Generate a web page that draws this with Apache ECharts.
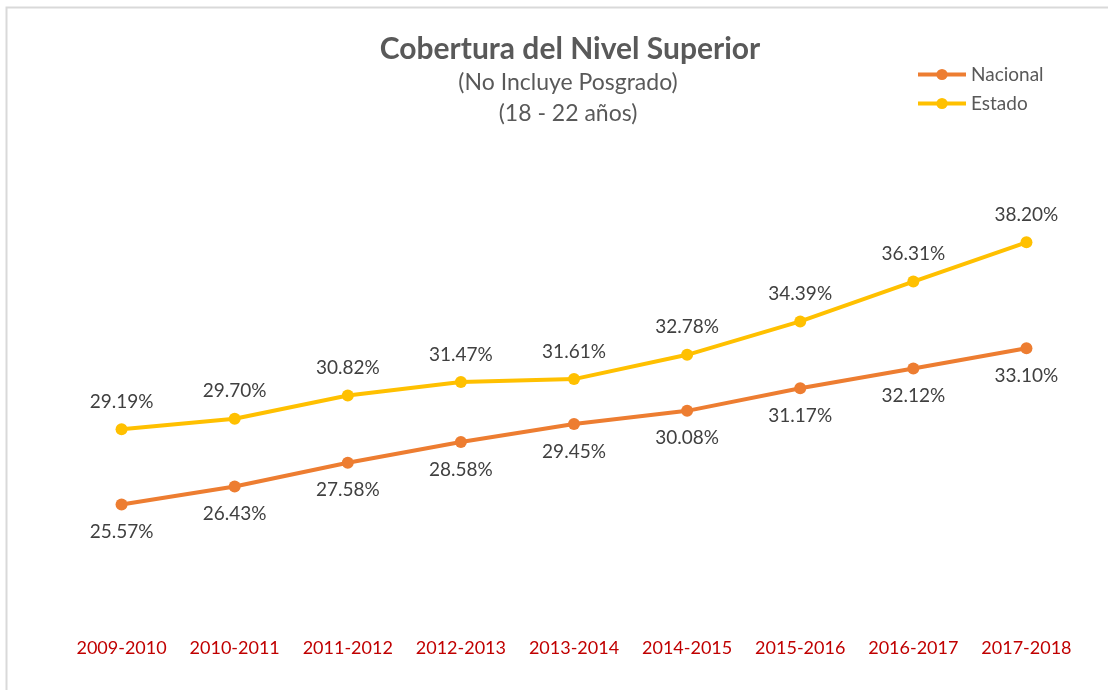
<!DOCTYPE html>
<html>
<head>
<meta charset="utf-8">
<script src="https://cdn.jsdelivr.net/npm/echarts@6/dist/echarts.min.js"></script>
<style>
  html, body { margin: 0; padding: 0; background: #fff; }
  #main { width: 1108px; height: 690px; }
</style>
</head>
<body>
<div id="main"></div>
<script>
var ciclos = ['2009-2010', '2010-2011', '2011-2012', '2012-2013', '2013-2014',
              '2014-2015', '2015-2016', '2016-2017', '2017-2018'];
var nacional = [25.57, 26.43, 27.58, 28.58, 29.45, 30.08, 31.17, 32.12, 33.10];
var estado = [29.19, 29.70, 30.82, 31.47, 31.61, 32.78, 34.39, 36.31, 38.20];

var chart = echarts.init(document.getElementById('main'), null, { renderer: 'canvas' });

var fuente = 'Lato, "Open Sans", sans-serif';

function etiqueta(pos) {
    return {
        show: true,
        position: pos,
        distance: 12,
        color: '#404040',
        fontSize: 19,
        fontFamily: fuente,
        formatter: function (p) { return p.value.toFixed(2) + '%'; }
    };
}

var option = {
    animation: false,
    title: [{
        text: 'Cobertura del Nivel Superior',
        left: 565,
        top: 29,
        textAlign: 'center',
        textStyle: { color: '#595959', fontSize: 30, fontWeight: 'bold', fontFamily: fuente }
    }, {
        text: '(No Incluye Posgrado)\n(18 - 22 años)',
        left: 563,
        top: 62,
        textAlign: 'center',
        textStyle: { color: '#595959', fontSize: 23, fontWeight: 'normal', fontFamily: fuente, lineHeight: 31 }
    }],
    legend: {
        orient: 'vertical',
        left: 911,
        top: 60,
        itemWidth: 48,
        itemHeight: 14,
        itemGap: 10,
        lineStyle: { width: 4 },
        textStyle: { color: '#595959', fontSize: 19, fontFamily: fuente },
        data: ['Nacional', 'Estado']
    },
    graphic: [{
        type: 'rect',
        shape: { x: 6.5, y: 7.5, width: 1300, height: 900 },
        style: { fill: 'none', stroke: '#d9d9d9', lineWidth: 2 },
        silent: true
    }],
    grid: { left: 65, right: 25, top: 205, bottom: 70 },
    xAxis: {
        type: 'category',
        data: ciclos,
        boundaryGap: true,
        axisLine: { show: false },
        axisTick: { show: false },
        axisLabel: { interval: 0, color: '#c00000', fontSize: 18, fontFamily: fuente, margin: 19 }
    },
    yAxis: {
        type: 'value',
        min: 20,
        max: 40,
        show: false
    },
    series: [{
        name: 'Nacional',
        type: 'line',
        data: nacional,
        symbol: 'circle',
        symbolSize: 12,
        lineStyle: { color: '#ed7d31', width: 4 },
        itemStyle: { color: '#ed7d31' },
        label: etiqueta('bottom')
    }, {
        name: 'Estado',
        type: 'line',
        data: estado,
        symbol: 'circle',
        symbolSize: 12,
        lineStyle: { color: '#ffc000', width: 4 },
        itemStyle: { color: '#ffc000' },
        label: etiqueta('top')
    }]
};

chart.setOption(option);
</script>
</body>
</html>
